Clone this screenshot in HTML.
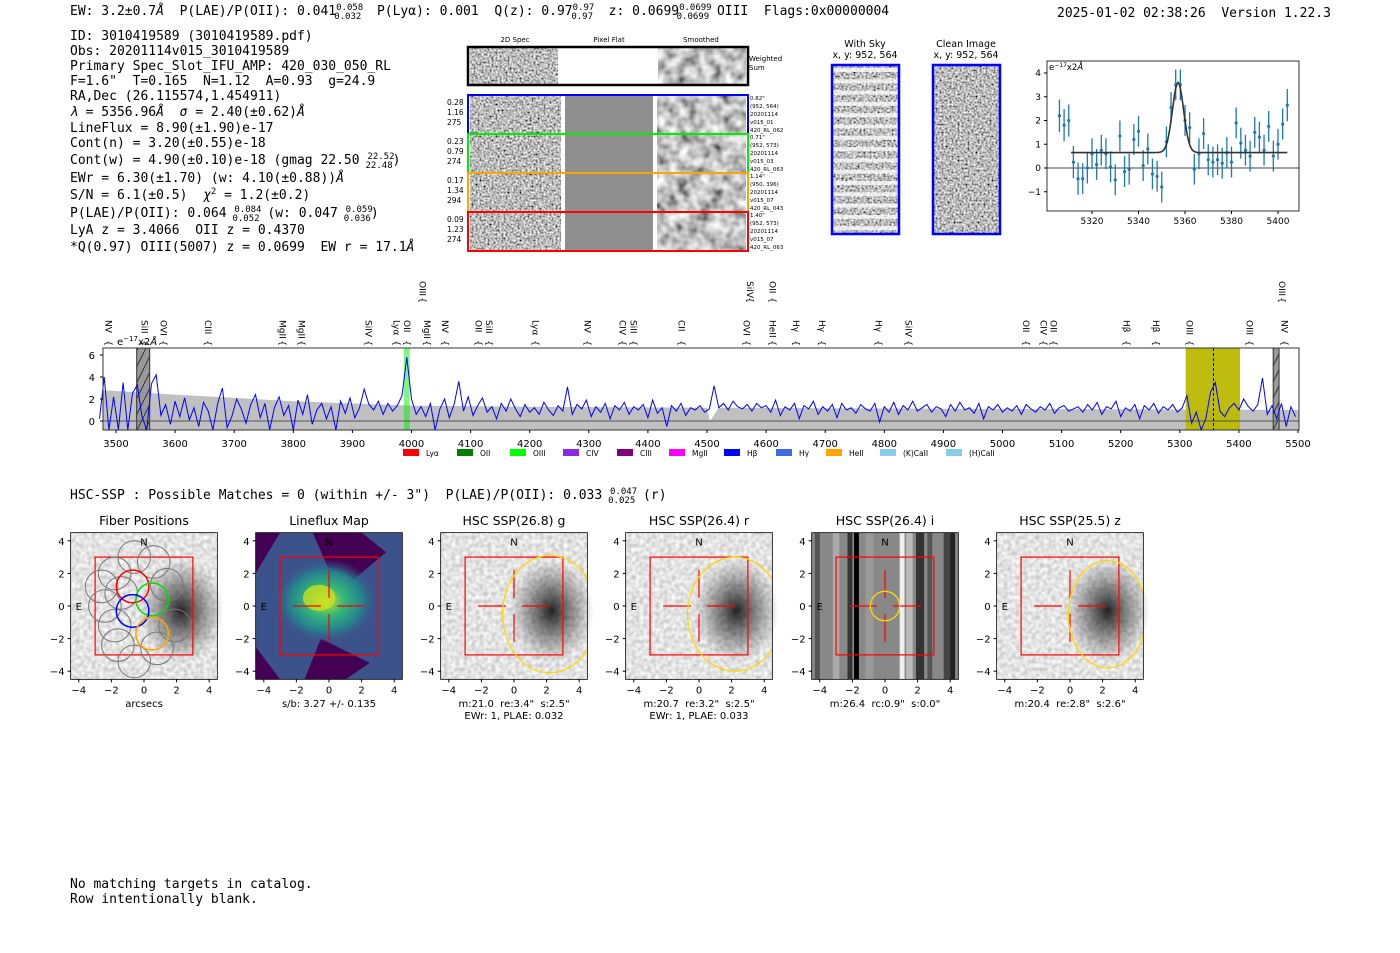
<!DOCTYPE html>
<html><head><meta charset="utf-8"><style>
html,body{margin:0;padding:0;background:#fff;width:1400px;height:953px;overflow:hidden}
svg{display:block}
text{white-space:pre}
.m{font-family:"DejaVu Sans Mono","Liberation Mono",monospace;font-size:13px;fill:#000;white-space:pre}
.s{font-family:"DejaVu Sans","Liberation Sans",sans-serif;fill:#000;white-space:pre}
</style></head><body>
<svg id="root" width="1400" height="953" viewBox="0 0 1400 953" xmlns="http://www.w3.org/2000/svg" xml:space="preserve">
<defs>
<filter id="gn" x="0" y="0" width="100%" height="100%"><feTurbulence type="fractalNoise" baseFrequency="0.5" numOctaves="1" seed="5" result="t"/><feColorMatrix in="t" type="matrix" values="0 1.7 0 0 -0.35  0 1.7 0 0 -0.35  0 1.7 0 0 -0.35  0 0 0 0 1"/></filter>
<filter id="gs" x="0" y="0" width="100%" height="100%"><feTurbulence type="fractalNoise" baseFrequency="0.09" numOctaves="2" seed="8" result="t"/><feColorMatrix in="t" type="matrix" values="0 1.5 0 0 -0.2  0 1.5 0 0 -0.2  0 1.5 0 0 -0.2  0 0 0 0 1"/></filter>
<filter id="gl" x="0" y="0" width="100%" height="100%"><feTurbulence type="fractalNoise" baseFrequency="0.25" numOctaves="1" seed="11" result="t"/><feColorMatrix in="t" type="matrix" values="0 0.7 0 0 0.42  0 0.7 0 0 0.42  0 0.7 0 0 0.42  0 0 0 0 1"/></filter>
<radialGradient id="blob" cx="0.5" cy="0.5" r="0.5"><stop offset="0" stop-color="#000" stop-opacity="0.85"/><stop offset="0.5" stop-color="#222" stop-opacity="0.45"/><stop offset="1" stop-color="#444" stop-opacity="0"/></radialGradient>
<radialGradient id="lf" cx="0.5" cy="0.5" r="0.5"><stop offset="0" stop-color="#d6e21e"/><stop offset="0.35" stop-color="#35b779"/><stop offset="0.7" stop-color="#26828e"/><stop offset="1" stop-color="#3b528b" stop-opacity="0"/></radialGradient>
<pattern id="hatch" width="8" height="16" patternUnits="userSpaceOnUse"><rect width="8" height="16" fill="#999"/><path d="M0,16 L8,0" stroke="#333" stroke-width="1"/></pattern>
</defs>
</svg>
<script>
// ---------- data ----------
const fitWave = [5306,5308,5310,5312,5314,5316,5318,5320,5322,5324,5326,5328,5330,5332,5334,5336,5338,5340,5342,5344,5346,5348,5350,5352,5354,5356,5358,5360,5362,5364,5366,5368,5370,5372,5374,5376,5378,5380,5382,5384,5386,5388,5390,5392,5394,5396,5398,5400,5402,5404];
const fitFlux = [2.2,1.8,2.0,0.25,-0.45,-0.45,0.0,0.6,0.15,0.75,0.6,0.05,-0.5,1.35,-0.15,-0.05,1.2,1.55,0.1,0.8,-0.25,-0.35,-0.8,1.1,2.55,3.5,3.5,2.0,1.7,-0.05,0.6,1.45,0.35,0.25,0.35,0.2,0.65,0.25,1.9,1.05,0.75,0.5,1.5,1.3,0.75,1.75,0.5,1.0,1.85,2.65];
const fitErr = [0.68,0.68,0.68,0.68,0.68,0.65,0.65,0.65,0.65,0.65,0.65,0.65,0.65,0.65,0.65,0.65,0.65,0.65,0.65,0.65,0.65,0.65,0.65,0.65,0.65,0.65,0.65,0.65,0.65,0.65,0.65,0.65,0.65,0.65,0.65,0.65,0.65,0.65,0.65,0.65,0.65,0.65,0.65,0.65,0.65,0.65,0.65,0.65,0.65,0.68];
const fitModel = {center:5357, sigma:2.4, amp:2.95, cont:0.65, start:5311, end:5404};
const fitXTicks = [5320,5340,5360,5380,5400];
const fitYTicks = [-1,0,1,2,3,4];

const specStart = 3472, specStep = 8;
const specFlux = [0.2,4.0,-1,2.2,-0.8,3.5,-1,2.5,3.3,0.4,-1,3.4,4.2,0.5,1.5,-0.3,
1.8,0.4,2.1,0.1,1.2,-0.5,1.7,0.9,-1,1.6,3.0,-0.6,0.4,2.0,1.1,-0.2,
1.5,2.4,0.3,1.6,-0.8,1.2,2.2,0.5,1.4,-1,1.9,0.6,2.4,-0.3,1.0,1.6,
0.2,1.3,-0.9,1.8,0.7,2.1,0.3,1.2,2.9,1.5,1.0,1.8,0.6,1.6,0.9,1.4,
2.3,5.8,2.0,0.6,1.3,0.4,1.6,-0.9,1.1,2.0,0.3,1.5,3.6,0.9,2.2,0.5,
1.4,2.1,0.8,1.3,0.2,1.6,0.9,2.0,1.1,0.4,1.5,0.8,1.2,0.6,1.7,1.0,
0.5,1.4,0.9,3.1,0.6,1.5,1.1,1.9,0.4,1.3,0.8,1.6,0.2,1.4,1.0,1.7,
0.6,1.3,1.0,1.5,0.3,1.9,0.7,1.2,-0.5,1.4,0.9,1.6,0.5,1.2,1.0,1.4,
0.8,1.1,3.2,1.2,1.6,1.0,1.8,1.3,1.1,1.5,0.9,1.6,1.2,1.4,0.8,1.9,
0.5,1.3,1.0,1.6,0.2,1.4,1.1,1.8,0.6,1.3,0.9,1.5,0.3,1.6,1.0,1.2,
0.7,1.5,1.1,0.9,1.6,-0.1,1.3,0.8,1.7,0.6,1.4,1.0,1.8,0.9,1.2,1.5,
0.8,1.3,1.1,0.4,1.5,0.9,1.7,1.0,1.2,0.7,1.6,0.2,1.3,1.0,1.5,0.8,
1.2,0.9,1.4,0.6,1.5,1.1,0.8,1.3,1.0,1.6,0.7,1.2,1.4,0.9,1.1,1.3,
0.8,1.5,1.0,1.7,0.6,1.3,1.1,1.8,0.4,1.2,0.9,1.5,0.2,1.4,1.0,1.6,
0.7,1.3,1.0,1.5,0.8,1.2,2.3,-0.2,0.8,-0.8,0.2,2.6,3.5,0.9,0.4,1.2,
1.6,1.0,2.0,1.3,0.9,1.5,3.9,0.6,1.4,0.2,1.6,-0.5,1.3,0.4];
const specErrWave = [3472,3600,3800,4000,4200,4500,4505,4520,5000,5500];
const specErrVal  = [2.8,2.4,1.8,1.4,1.3,1.2,0,1.2,1.1,1.0];
const specXTicks = [3500,3600,3700,3800,3900,4000,4100,4200,4300,4400,4500,4600,4700,4800,4900,5000,5100,5200,5300,5400,5500];
const specYTicks = [0,2,4,6];
const lineLabels = ["NV","SiII","OVI","CIII","MgII","MgII","SiIV","Lyα","OII","MgII","NV","OII","SiII","Lyα","NV","CIV","SiII","CII","OVI","HeII","Hγ","Hγ","Hγ","SiIV","OII","CIV","OII","Hβ","Hβ","OIII","OIII","NV","OIII","SiIV","OII","OIII"];
const lineWaves  = [3487,3548,3580,3656,3782,3814,3927,3975,3992,4026,4057,4113,4131,4210,4298,4357,4376,4457,4567,4611,4651,4695,4790,4841,5040,5069,5086,5210,5260,5316,5418,5477,4019,4573,4611,5473];
const lineRow    = [0,0,0,0,0,0,0,0,0,0,0,0,0,0,0,0,0,0,0,0,0,0,0,0,0,0,0,0,0,0,0,0,1,1,1,1];
const lineColor  = ["#800080","#800080","#9932cc","#ff00ff","#87ceeb","#87ceeb","#800080","#ffa500","#00cc00","#006400","#ffa500","#4169e1","#ffa500","#8a2be2","#8a2be2","#800080","#9370db","#ff00ff","#ff0000","#800080","#00ee00","#00ee00","#0000cd","#9370db","#87ceeb","#ffa500","#87ceeb","#00ee00","#00ee00","#00ee00","#00ee00","#ff0000","#00cc00","#ffa500","#4169e1","#0000ff"];
const legendNames = ["Lyα","OII","OIII","CIV","CIII","MgII","Hβ","Hγ","HeII","(K)CaII","(H)CaII"];
const legendColors = ["#ff0000","#008000","#00ff00","#8a2be2","#800080","#ff00ff","#0000ff","#4169e1","#ffa500","#87ceeb","#87ceeb"];

// ---------- helpers ----------
const NS = "http://www.w3.org/2000/svg";
const root = document.getElementById('root');
function el(tag, attrs, name, parent) {
  const e = document.createElementNS(NS, tag);
  for (const k in attrs) e.setAttribute(k, attrs[k]);
  
  
  (parent || root).appendChild(e);
  return e;
}
function txt(x, y, s, cls, name, extra) {
  const a = Object.assign({x:x, y:y, class:cls}, extra || {});
  const t = el('text', a, name);
  t.innerHTML = s;
  return t;
}

// ---------- header text ----------
txt(70, 15, 'EW: 3.2±0.7<tspan font-style="italic">Å</tspan>  P(LAE)/P(OII): 0.041<tspan font-size="9" dy="-5">0.058</tspan><tspan font-size="9" dx="-29" dy="9">0.032</tspan><tspan dy="-4">  P(Lyα): 0.001  Q(z): 0.97</tspan><tspan font-size="9" dy="-5">0.97</tspan><tspan font-size="9" dx="-23" dy="9">0.97</tspan><tspan dy="-4">  z: 0.0699</tspan><tspan font-size="9" dy="-5">0.0699</tspan><tspan font-size="9" dx="-35" dy="9">0.0699</tspan><tspan dy="-4"> OIII  Flags:0x00000004</tspan>', 'm', 'header-summary');
txt(1057, 17, '2025-01-02 02:38:26  Version 1.22.3', 'm', 'header-timestamp');

const info = [
 'ID: 3010419589 (3010419589.pdf)',
 'Obs: 20201114v015_3010419589',
 'Primary Spec_Slot_IFU_AMP: 420_030_050_RL',
 'F=1.6"  T=0.165  N=1.12  A=0.93  g=24.9',
 'RA,Dec (26.115574,1.454911)',
 '<tspan font-style="italic">λ</tspan> = 5356.96<tspan font-style="italic">Å</tspan>  <tspan font-style="italic">σ</tspan> = 2.40(±0.62)<tspan font-style="italic">Å</tspan>',
 'LineFlux = 8.90(±1.90)e-17',
 'Cont(n) = 3.20(±0.55)e-18',
 'Cont(w) = 4.90(±0.10)e-18 (gmag 22.50 <tspan font-size="9" dy="-5">22.52</tspan><tspan font-size="9" dx="-29" dy="9">22.48</tspan><tspan dy="-4">)</tspan>',
 'EWr = 6.30(±1.70) (w: 4.10(±0.88))<tspan font-style="italic">Å</tspan>',
 'S/N = 6.1(±0.5)  <tspan font-style="italic">χ</tspan><tspan font-size="9" dy="-5">2</tspan><tspan dy="5"> = 1.2(±0.2)</tspan>',
 'P(LAE)/P(OII): 0.064 <tspan font-size="9" dy="-5">0.084</tspan><tspan font-size="9" dx="-29" dy="9">0.052</tspan><tspan dy="-4"> (w: 0.047 </tspan><tspan font-size="9" dy="-5">0.059</tspan><tspan font-size="9" dx="-29" dy="9">0.036</tspan><tspan dy="-4">)</tspan>',
 'LyA z = 3.4066  OII z = 0.4370',
 '*Q(0.97) OIII(5007) z = 0.0699  EW r = 17.1<tspan font-style="italic">Å</tspan>'
];
const infoY = [40,55,70,85,100,116,132,147,164,182,199,217,234,251];
for (let i = 0; i < info.length; i++) txt(70, infoY[i], info[i], 'm', 'info-line');

// ---------- 2D spec panel ----------
function noiseRect(x, y, w, h, filt, name) {
  el('rect', {x:x, y:y, width:w, height:h, fill:'#888', filter:'url(#'+filt+')'}, name);
}
txt(515, 42, '2D Spec', 's', 'col-title-2dspec', {'font-size':7, 'text-anchor':'middle'});
txt(609, 42, 'Pixel Flat', 's', 'col-title-pixelflat', {'font-size':7, 'text-anchor':'middle'});
txt(701, 42, 'Smoothed', 's', 'col-title-smoothed', {'font-size':7, 'text-anchor':'middle'});
noiseRect(470, 48, 88, 36, 'gn', 'weighted-2dspec');
noiseRect(658, 48, 88, 36, 'gs', 'weighted-smoothed');
el('rect', {x:468, y:47, width:280, height:38, fill:'none', stroke:'#000', 'stroke-width':2.5}, 'weighted-sum-frame');
txt(749, 61, 'Weighted', 's', 'weighted-label', {'font-size':7});
txt(749, 70, 'Sum', 's', 'weighted-label', {'font-size':7});
const rowCols = ['#0000ff','#00ee00','#ffa500','#ff0000'];
const rowLeft = [['0.28','1.16','275'],['0.23','0.79','274'],['0.17','1.34','294'],['0.09','1.23','274']];
const rowRight = [['0.82"','(952, 564)','20201114','v015_01','420_RL_062'],['0.71"','(952, 573)','20201114','v015_03','420_RL_063'],['1.14"','(950, 396)','20201114','v015_07','420_RL_043'],['1.40"','(952, 573)','20201114','v015_07','420_RL_063']];
const rowTop = [95,134,173,212];
for (let r = 0; r < 4; r++) {
  const y = rowTop[r];
  noiseRect(470, y+1, 91, 37, 'gn', 'fiber-2dspec');
  el('rect', {x:565, y:y+1, width:88, height:37, fill:'#8f8f8f'}, 'fiber-pixelflat');
  noiseRect(657, y+1, 89, 37, 'gs', 'fiber-smoothed');
  el('rect', {x:468, y:y, width:280, height:39, fill:'none', stroke:rowCols[r], 'stroke-width':2}, 'fiber-row-frame');
  for (let k = 0; k < 3; k++) txt(447, y+10+k*10, rowLeft[r][k], 's', 'fiber-row-stat', {'font-size':7.5});
  for (let k = 0; k < 5; k++) txt(750, y+5+k*8, rowRight[r][k], 's', 'fiber-row-info', {'font-size':5.5});
}
txt(865, 47, 'With Sky', 's', 'with-sky-title', {'font-size':9.5, 'text-anchor':'middle'});
txt(865, 58, 'x, y: 952, 564', 's', 'with-sky-coords', {'font-size':9.5, 'text-anchor':'middle'});
txt(966, 47, 'Clean Image', 's', 'clean-title', {'font-size':9.5, 'text-anchor':'middle'});
txt(966, 58, 'x, y: 952, 564', 's', 'clean-coords', {'font-size':9.5, 'text-anchor':'middle'});
noiseRect(832, 65, 67, 168, 'gn', 'with-sky-image');
for (let i = 0; i < 15; i++) el('rect', {x:832, y:68+i*11.3, width:67, height:4, fill:'#fff', opacity:0.75}, 'sky-stripe');
el('rect', {x:832, y:65, width:67, height:169, fill:'none', stroke:'#0000ff', 'stroke-width':2.5}, 'with-sky-frame');
noiseRect(933, 65, 67, 168, 'gn', 'clean-image');
el('rect', {x:933, y:65, width:67, height:169, fill:'none', stroke:'#0000ff', 'stroke-width':2.5}, 'clean-frame');

// ---------- line fit plot ----------
const fx0 = 1047, fx1 = 1299, fy0 = 61, fy1 = 211;
const fX = w => 1092 + (w - 5320) * 2.325;
const fY = v => 168 - v * 23.75;
el('line', {x1:fx0, x2:fx1, y1:fY(0), y2:fY(0), stroke:'#444', 'stroke-width':1}, 'fit-zero-line');
for (let i = 0; i < fitWave.length; i++) {
  el('line', {x1:fX(fitWave[i]), x2:fX(fitWave[i]), y1:fY(fitFlux[i]-fitErr[i]), y2:fY(fitFlux[i]+fitErr[i]), stroke:'#1f77b4', 'stroke-width':1.3}, 'fit-errorbar');
  el('circle', {cx:fX(fitWave[i]), cy:fY(fitFlux[i]), r:1.6, fill:'#1f77b4'}, 'fit-point');
}
let mp = '';
for (let w = fitModel.start; w <= fitModel.end; w += 0.5) {
  const v = fitModel.cont + fitModel.amp * Math.exp(-0.5 * Math.pow((w - fitModel.center) / fitModel.sigma, 2));
  mp += (mp ? 'L' : 'M') + fX(w).toFixed(1) + ',' + fY(v).toFixed(1);
}
el('path', {d:mp, fill:'none', stroke:'#333', 'stroke-width':1.6}, 'fit-model-curve');
el('rect', {x:fx0, y:fy0, width:fx1-fx0, height:fy1-fy0, fill:'none', stroke:'#000', 'stroke-width':0.8}, 'fit-axes-frame');
for (const t of fitXTicks) {
  el('line', {x1:fX(t), x2:fX(t), y1:fy1, y2:fy1+3, stroke:'#000'}, 'fit-x-tick');
  txt(fX(t), fy1+13, t, 's', 'fit-x-tick-label', {'font-size':9, 'text-anchor':'middle'});
}
for (const t of fitYTicks) {
  el('line', {x1:fx0-3, x2:fx0, y1:fY(t), y2:fY(t), stroke:'#000'}, 'fit-y-tick');
  txt(fx0-6, fY(t)+3, t < 0 ? '−' + (-t) : t, 's', 'fit-y-tick-label', {'font-size':9, 'text-anchor':'end'});
}
txt(fx0+2, fy0+9, 'e<tspan font-size="6" dy="-3">−17</tspan><tspan dy="3">x2<tspan font-style="italic">Å</tspan></tspan>', 's', 'fit-units-label', {'font-size':8.5});

// ---------- full spectrum ----------
const sx0 = 103, sx1 = 1299, sy0 = 348, sy1 = 430;
const sX = w => 116 + (w - 3500) * 0.591;
const sY = v => 421 - v * 11;
el('rect', {x:sx0, y:sy0, width:sx1-sx0, height:sy1-sy0, fill:'#fff'}, 'spec-bg');
let ep = 'M' + sx0 + ',' + sy1;
for (let i = 0; i < specErrWave.length; i++) ep += 'L' + Math.max(sx0, sX(specErrWave[i])).toFixed(1) + ',' + sY(specErrVal[i]).toFixed(1);
ep += 'L' + sx1 + ',' + sY(specErrVal[specErrVal.length-1]) + 'L' + sx1 + ',' + sy1 + 'Z';
el('path', {d:ep, fill:'#c0c0c0'}, 'spec-error-band');
el('rect', {x:sX(5310), y:sy0, width:sX(5402)-sX(5310), height:sy1-sy0, fill:'#bbb800', opacity:0.95}, 'fit-window-band');
el('rect', {x:sX(3987), y:sy0, width:sX(3997)-sX(3987), height:sy1-sy0, fill:'#00ee00', opacity:0.5}, 'oii-band');
el('rect', {x:sX(3535), y:sy0, width:sX(3557)-sX(3535), height:sy1-sy0, fill:'url(#hatch)', stroke:'#333'}, 'masked-region');
el('rect', {x:sX(5458), y:sy0, width:sX(5468)-sX(5458), height:sy1-sy0, fill:'url(#hatch)', stroke:'#333'}, 'masked-region');
el('line', {x1:sx0, x2:sx1, y1:sY(0), y2:sY(0), stroke:'#555', 'stroke-width':1}, 'spec-zero-line');
let sp = '';
for (let i = 0; i < specFlux.length; i++) {
  const w = specStart + i * specStep;
  if (w > 5500) break;
  sp += (sp ? 'L' : 'M') + sX(w).toFixed(1) + ',' + Math.min(sy1, Math.max(sy0, sY(specFlux[i]))).toFixed(1);
}
el('path', {d:sp, fill:'none', stroke:'#0000ff', 'stroke-width':1}, 'spectrum-line');
el('line', {x1:sX(5357), x2:sX(5357), y1:sy0, y2:sy1, stroke:'#000', 'stroke-dasharray':'3,2'}, 'line-center-marker');
el('rect', {x:sx0, y:sy0, width:sx1-sx0, height:sy1-sy0, fill:'none', stroke:'#333', 'stroke-width':1}, 'spec-axes-frame');
for (const t of specXTicks) {
  el('line', {x1:sX(t), x2:sX(t), y1:sy1, y2:sy1+3, stroke:'#000'}, 'spec-x-tick');
  txt(sX(t), sy1+17, t, 's', 'spec-x-tick-label', {'font-size':10, 'text-anchor':'middle'});
}
for (const t of specYTicks) {
  el('line', {x1:sx0-3, x2:sx0, y1:sY(t), y2:sY(t), stroke:'#000'}, 'spec-y-tick');
  txt(sx0-8, sY(t)+4, t, 's', 'spec-y-tick-label', {'font-size':10, 'text-anchor':'end'});
}
txt(117, 345, 'e<tspan font-size="7" dy="-4">−17</tspan><tspan dy="4">x2<tspan font-style="italic">Å</tspan></tspan>', 's', 'spec-units-label', {'font-size':10});
for (let i = 0; i < lineLabels.length; i++) {
  const x = sX(lineWaves[i]);
  const yb = lineRow[i] === 0 ? 346 : 303;
  txt(x - 3, yb, '{', 's', 'line-marker-brace', {'font-size':9, fill:lineColor[i], transform:'rotate(90 '+(x-3)+' '+yb+')', 'text-anchor':'end'});
  const yt = lineRow[i] === 0 ? 320 : 281;
  txt(x - 3, yt, lineLabels[i], 's', 'line-label', {'font-size':9, fill:lineColor[i], transform:'rotate(90 '+(x-3)+' '+yt+')', 'text-anchor':'start'});
}
const legX = [403,457,510,563,617,669,724,776,826,880,946];
for (let i = 0; i < legendNames.length; i++) {
  el('rect', {x:legX[i], y:449, width:16, height:7, fill:legendColors[i]}, 'legend-swatch');
  txt(legX[i]+23, 456, legendNames[i], 's', 'legend-entry', {'font-size':7.5});
}

// ---------- HSC section ----------
txt(70, 499, 'HSC-SSP : Possible Matches = 0 (within +/- 3")  P(LAE)/P(OII): 0.033 <tspan font-size="9" dy="-5">0.047</tspan><tspan font-size="9" dx="-29" dy="9">0.025</tspan><tspan dy="-4"> (r)</tspan>', 'm', 'hsc-summary');
const panelTitles = ['Fiber Positions','Lineflux Map','HSC SSP(26.8) g','HSC SSP(26.4) r','HSC SSP(26.4) i','HSC SSP(25.5) z'];
const panelCaps = [['arcsecs'],['s/b: 3.27 +/- 0.135'],['m:21.0  re:3.4"  s:2.5"','EWr: 1, PLAE: 0.032'],['m:20.7  re:3.2"  s:2.5"','EWr: 1, PLAE: 0.033'],['m:26.4  rc:0.9"  s:0.0"'],['m:20.4  re:2.8"  s:2.6"']];
const panelCx = [144,329,514,699,885,1070];
const axTicks = [-4,-2,0,2,4];
const ell = [null,null,{cx:2.2,cy:-0.5,rx:2.9,ry:3.6},{cx:2.2,cy:-0.5,rx:2.9,ry:3.5},{cx:0,cy:0,rx:0.9,ry:0.9},{cx:2.3,cy:-0.5,rx:2.4,ry:3.3}];
for (let p = 0; p < 6; p++) {
  const cx = panelCx[p], cy = 606, s = 16.3;
  const X = v => cx + v * s, Y = v => cy - v * s;
  const g = el('g', {}, 'cutout-panel');
  const x0 = X(-4.5), y0 = Y(4.5), W = 9 * s;
  if (p === 1) {
    el('rect', {x:x0, y:y0, width:W, height:W, fill:'#3b528b'}, 'lineflux-bg', g);
    el('polygon', {points:[X(-1),Y(4.5),X(2),Y(4.5),X(3.5),Y(3.3),X(1.5),Y(1.6),X(0),Y(2.2)].join(','), fill:'#440154'}, 'lineflux-low', g);
    el('polygon', {points:[X(-0.5),Y(-2),X(2.5),Y(-3.5),X(1),Y(-4.5),X(-1.5),Y(-4.5)].join(','), fill:'#440154'}, 'lineflux-low', g);
    el('polygon', {points:[X(-4.5),Y(4.5),X(-3),Y(4.5),X(-4.5),Y(2)].join(','), fill:'#440154'}, 'lineflux-low', g);
    el('polygon', {points:[X(-4.5),Y(-2.5),X(-3),Y(-4.5),X(-4.5),Y(-4.5)].join(','), fill:'#440154'}, 'lineflux-low', g);
    el('ellipse', {cx:X(-0.2), cy:Y(0.3), rx:3.2*s, ry:2.6*s, fill:'url(#lf)'}, 'lineflux-peak', g);
    el('ellipse', {cx:X(-0.6), cy:Y(0.5), rx:1.0*s, ry:0.8*s, fill:'#c8e020', opacity:0.8}, 'lineflux-peak', g);
  } else if (p === 4) {
    el('rect', {x:x0, y:y0, width:W, height:W, fill:'#888'}, 'i-band-bg', g);
    const stripes = [[-4.3,0.3,'#555'],[-3.2,0.4,'#aaa'],[-2.3,0.3,'#333'],[-1.9,0.3,'#000'],[-1.2,0.5,'#999'],[0.9,0.3,'#eee'],[1.3,0.4,'#bbb'],[1.9,0.5,'#333'],[2.6,0.3,'#555'],[3.6,0.4,'#444'],[4.0,0.3,'#222']];
    for (const st of stripes) el('rect', {x:X(st[0]), y:y0, width:st[1]*s, height:W, fill:st[2]}, 'i-band-stripe', g);
  } else {
    el('rect', {x:x0, y:y0, width:W, height:W, fill:'#ccc', filter:'url(#gl)'}, 'cutout-image', g);
    el('ellipse', {cx:X(2.3), cy:Y(-0.3), rx:2.6*s, ry:3.2*s, fill:'url(#blob)'}, 'galaxy-blob', g);
  }
  el('rect', {x:X(-3), y:Y(3), width:6*s, height:6*s, fill:'none', stroke:'#ff0000', 'stroke-width':1.2}, 'aperture-box', g);
  if (p === 0) {
    const fib = [[-2.6,1.2],[-1.8,2.0],[-0.6,3.0],[0.6,2.7],[1.4,1.3],[-2.4,0],[-1.8,-1.2],[-1.6,-2.4],[-0.6,-3.4],[0.8,-2.6],[1.9,-1.2],[-1.4,0.8]];
    for (const f of fib) el('circle', {cx:X(f[0]), cy:Y(f[1]), r:1.0*s, fill:'none', stroke:'#777', 'stroke-width':1}, 'fiber-circle', g);
    const hl = [[-0.7,1.2,'#ff0000'],[0.5,0.4,'#00dd00'],[-0.7,-0.3,'#0000ff'],[0.5,-1.7,'#ffa500']];
    for (const f of hl) el('circle', {cx:X(f[0]), cy:Y(f[1]), r:1.0*s, fill:'none', stroke:f[2], 'stroke-width':1.5}, 'selected-fiber', g);
  } else {
    el('line', {x1:X(-2.2), x2:X(-0.5), y1:Y(0), y2:Y(0), stroke:'#ff0000', 'stroke-width':1.2}, 'crosshair', g);
    el('line', {x1:X(0.5), x2:X(2.2), y1:Y(0), y2:Y(0), stroke:'#ff0000', 'stroke-width':1.2}, 'crosshair', g);
    el('line', {x1:X(0), x2:X(0), y1:Y(2.2), y2:Y(0.5), stroke:'#ff0000', 'stroke-width':1.2}, 'crosshair', g);
    el('line', {x1:X(0), x2:X(0), y1:Y(-0.5), y2:Y(-2.2), stroke:'#ff0000', 'stroke-width':1.2}, 'crosshair', g);
  }
  if (ell[p]) {
    const e = ell[p];
    const clip = el('clipPath', {id:'cp'+p}, 'clip', g);
    el('rect', {x:x0, y:y0, width:W, height:W}, 'clip-rect', clip);
    el('ellipse', {cx:X(e.cx), cy:Y(e.cy), rx:e.rx*s, ry:e.ry*s, fill:'none', stroke:'#ffd700', 'stroke-width':1.3, 'clip-path':'url(#cp'+p+')'}, 'catalog-ellipse', g);
  }
  txt(X(0), Y(3.7), 'N', 's', 'north-label', {'font-size':10, fill:'#ff0000', 'text-anchor':'middle'});
  txt(X(-4.0), Y(0)+4, 'E', 's', 'east-label', {'font-size':10, fill:'#ff0000', 'text-anchor':'middle'});
  el('rect', {x:x0, y:y0, width:W, height:W, fill:'none', stroke:'#000', 'stroke-width':0.8}, 'cutout-frame', g);
  txt(cx, 525, panelTitles[p], 's', 'panel-title', {'font-size':12.5, 'text-anchor':'middle'});
  for (const t of axTicks) {
    el('line', {x1:X(t), x2:X(t), y1:y0+W, y2:y0+W+3, stroke:'#000'}, 'x-tick', g);
    txt(X(t), y0+W+14, t < 0 ? '−' + (-t) : t, 's', 'x-tick-label', {'font-size':10, 'text-anchor':'middle'});
    el('line', {x1:x0-3, x2:x0, y1:Y(t), y2:Y(t), stroke:'#000'}, 'y-tick', g);
    txt(x0-6, Y(t)+4, t < 0 ? '−' + (-t) : t, 's', 'y-tick-label', {'font-size':10, 'text-anchor':'end'});
  }
  for (let k = 0; k < panelCaps[p].length; k++) txt(cx, 707 + k*12, panelCaps[p][k], 's', 'panel-caption', {'font-size':10, 'text-anchor':'middle'});
}

txt(70, 888, 'No matching targets in catalog.', 'm', 'catalog-note');
txt(70, 903, 'Row intentionally blank.', 'm', 'blank-row-note');
</script>
</body></html>
